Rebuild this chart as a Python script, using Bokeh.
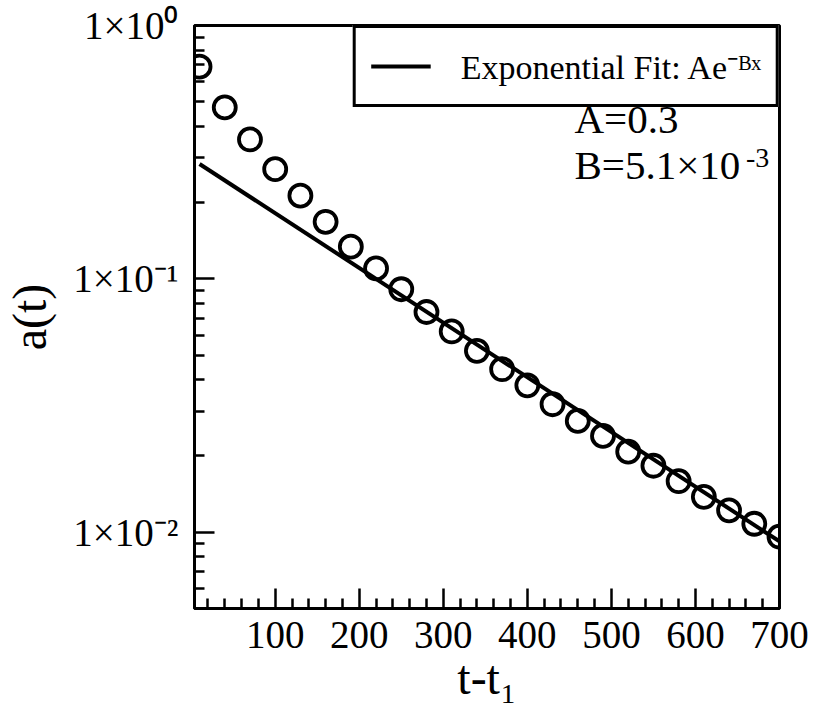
from bokeh.plotting import figure
from bokeh.models import (Range1d, FixedTicker, Label, Legend, LegendItem)
from bokeh.embed import file_html
from bokeh.resources import INLINE

# ---- data ----
t_vals = [10, 40, 70, 100, 130, 160, 190, 220, 250, 280, 310, 340,
          370, 400, 430, 460, 490, 520, 550, 580, 610, 640, 670, 700]
a_vals = [0.688, 0.475, 0.355, 0.271, 0.213, 0.168, 0.134, 0.110,
          0.091, 0.074, 0.062, 0.052, 0.044, 0.038, 0.032, 0.0275,
          0.024, 0.0208, 0.0183, 0.0159, 0.0138, 0.0122, 0.0108, 0.0096]

fit_t = [10, 700]
fit_a = [0.284, 0.0092]

x_major = [100, 200, 300, 400, 500, 600, 700]
x_minor = [20, 40, 60, 80, 120, 140, 160, 180, 220, 240, 260, 280,
           320, 340, 360, 380, 420, 440, 460, 480, 520, 540, 560, 580,
           620, 640, 660, 680]
y_major = [0.01, 0.1, 1.0]
y_major_labels = ["1×10⁻²", "1×10⁻¹", "1×10⁰"]
y_minor = [0.006, 0.007, 0.008, 0.009,
           0.02, 0.03, 0.04, 0.05, 0.06, 0.07, 0.08, 0.09,
           0.2, 0.3, 0.4, 0.5, 0.6, 0.7, 0.8, 0.9]

legend_text = "Exponential Fit: Ae⁻ᴮˣ"
param_A = "A=0.3"
param_B = "B=5.1×10"
param_B_sup = "-3"

FONT = "Liberation Serif"

p = figure(width=816, height=723, y_axis_type="log",
           x_range=Range1d(4, 700), y_range=Range1d(0.005, 1.0),
           output_backend="svg", toolbar_location=None,
           min_border_left=192, min_border_right=37,
           min_border_top=25, min_border_bottom=115)

p.xgrid.visible = False
p.ygrid.visible = False
p.outline_line_color = "black"
p.outline_line_width = 3
p.outline_line_alpha = 1.0

fit_r = p.line(fit_t, fit_a, line_color="black", line_width=4)
p.scatter(t_vals, a_vals, marker="circle", size=22, fill_color=None,
          line_color="black", line_width=3.8)

# axes
xa = p.xaxis[0]
xa.ticker = FixedTicker(ticks=x_major, minor_ticks=x_minor)
ya = p.yaxis[0]
ya.ticker = FixedTicker(ticks=y_major, minor_ticks=y_minor)
ya.major_label_overrides = {v: s for v, s in zip(y_major, y_major_labels)}

for ax in (xa, ya):
    ax.axis_line_width = 3
    ax.axis_line_color = "black"
    ax.major_tick_in = 20
    ax.major_tick_out = 0
    ax.minor_tick_in = 10
    ax.minor_tick_out = 0
    ax.major_tick_line_width = 2.5
    ax.minor_tick_line_width = 2.5
    ax.major_label_text_font = FONT
    ax.major_label_text_font_size = "39px"
    ax.major_label_text_color = "black"
    ax.axis_label_text_font = FONT
    ax.axis_label_text_font_style = "normal"
    ax.axis_label_text_font_size = "48px"
    ax.axis_label_text_color = "black"

xa.axis_label = "t-t₁"
xa.major_label_standoff = 13
xa.axis_label_standoff = 0
ya.axis_label = "a(t)"
ya.major_label_standoff = 16
ya.axis_label_standoff = 14

# legend
legend = Legend(items=[LegendItem(label=legend_text, renderers=[fit_r])],
                location="top_right", margin=0, padding=15,
                glyph_width=60, glyph_height=40, label_standoff=30,
                label_text_font=FONT, label_text_font_size="34px",
                label_text_color="black",
                border_line_color="black", border_line_width=3,
                border_line_alpha=1.0,
                background_fill_color="white", background_fill_alpha=1.0)
p.add_layout(legend)

p.add_layout(Label(x=456, y=0.346, text=param_A, text_font=FONT,
                   text_font_size="41px", text_color="black"))
p.add_layout(Label(x=456, y=0.228, text=param_B, text_font=FONT,
                   text_font_size="41px", text_color="black"))
p.add_layout(Label(x=660, y=0.2757, text=param_B_sup, text_font=FONT,
                   text_font_size="28px", text_color="black"))

open("out.html", "w").write(file_html(p, INLINE))
